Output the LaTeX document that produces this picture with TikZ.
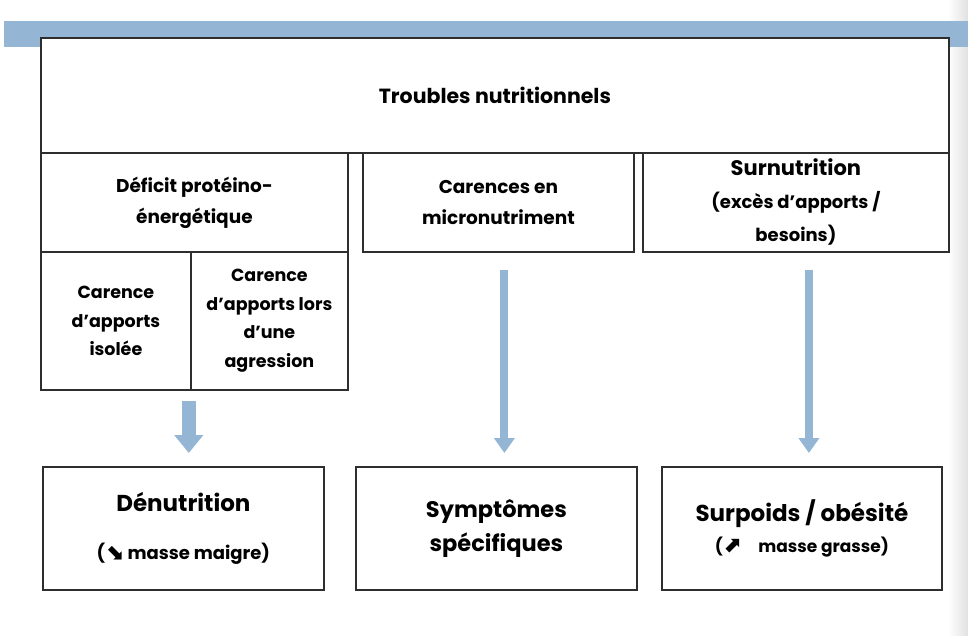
\documentclass[tikz,border=0pt]{standalone}
\usepackage{fontspec}
\setmainfont{Poppins}
\newfontfamily\arrowfont{DejaVu Sans}
\usetikzlibrary{arrows.meta,positioning}
\definecolor{SteelBand}{HTML}{94B5D4}
\definecolor{EdgeGray}{HTML}{2E2E2E}

\begin{document}
\begin{tikzpicture}[x=1pt,y=-1pt,
    box/.style={draw=EdgeGray,line width=1.8pt,fill=white,align=center,
                anchor=north west,inner sep=2pt,font=\bfseries},
    midtext/.style={font=\bfseries\fontsize{18.5}{31}\selectfont},
    subtext/.style={font=\bfseries\fontsize{17.5}{28.5}\selectfont},
    bigtext/.style={font=\bfseries\fontsize{22.5}{34}\selectfont},
    flow/.style={SteelBand,line width=8pt,-{Triangle[width=20pt,length=15pt]}},
    fatflow/.style={SteelBand,line width=14pt,-{Triangle[width=28pt,length=18pt]}}]
    \useasboundingbox (0,0) rectangle (968,635);
    \shade[left color=white,right color=black!12] (948,0) rectangle (968,635);
    \fill[SteelBand] (4,21) rectangle (968,47);
    % top level
    \node[box,minimum width=908pt,minimum height=115pt,
      font=\bfseries\fontsize{20.5}{24}\selectfont] (troubles) at (40,37) {Troubles nutritionnels};
    % second row
    \node[box,midtext,minimum width=307pt,minimum height=99pt] (deficit) at (40,152)
      {Déficit protéino-\\énergétique};
    \node[box,midtext,minimum width=271pt,minimum height=99pt] (micro) at (362,152)
      {Carences en\\micronutriment};
    \node[box,midtext,minimum width=306pt,minimum height=99pt,
      font=\bfseries\fontsize{18}{33}\selectfont] (surnutrition) at (642,152)
      {{\fontsize{21}{24}\selectfont Surnutrition}\\(excès d'apports /\\besoins)};
    % third row, under the deficit
    \node[box,subtext,minimum width=150pt,minimum height=138pt] (isolee) at (40,251)
      {Carence\\d'apports\\isolée};
    \node[box,subtext,minimum width=157pt,minimum height=138pt] (agression) at (190,251)
      {Carence\\d'apports lors\\d'une\\agression};
    % outcomes
    \node[box,minimum width=281pt,minimum height=123pt] (denutrition) at (42,466)
      {{\fontsize{23}{26}\selectfont Dénutrition}\\[31pt]
       {\fontsize{18}{20}\selectfont ({\arrowfont\bfseries\fontsize{22}{20}\selectfont ⬊} masse maigre)}};
    \node[box,bigtext,minimum width=281pt,minimum height=123pt] (symptomes) at (355,466)
      {Symptômes\\spécifiques};
    \node[box,minimum width=280pt,minimum height=123pt] (surpoids) at (661,466)
      {{\fontsize{23}{26}\selectfont Surpoids / obésité}\\[8pt]
       {\fontsize{17}{20}\selectfont ({\arrowfont\bfseries\fontsize{22}{20}\selectfont ⬈}\quad masse grasse)}};
    % links
    \draw[fatflow,shorten <=10pt,shorten >=13pt] ([xshift=-3pt]isolee.south east) -- ([xshift=-3pt]isolee.south east |- denutrition.north);
    \draw[flow,shorten <=17pt,shorten >=13pt] ([xshift=6pt]micro.south) -- ([xshift=6pt]micro.south |- symptomes.north);
    \draw[flow,shorten <=17pt,shorten >=13pt] ([xshift=13pt]surnutrition.south) -- ([xshift=13pt]surnutrition.south |- surpoids.north);
\end{tikzpicture}
\end{document}
